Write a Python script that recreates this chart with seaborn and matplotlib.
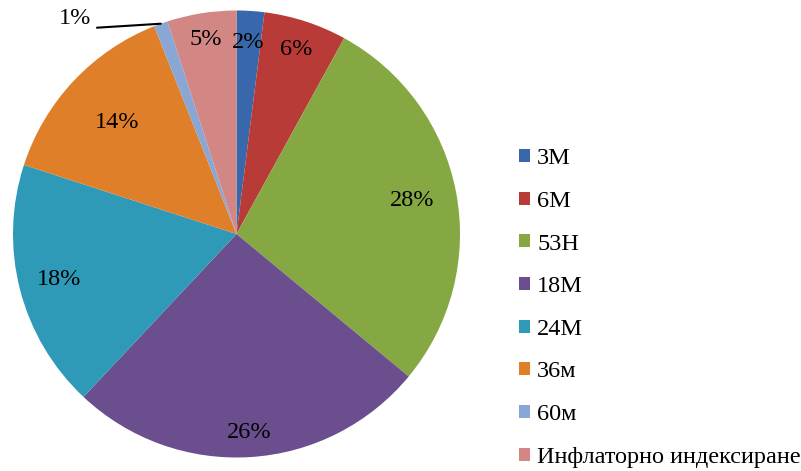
import seaborn as sns
import matplotlib.pyplot as plt
import numpy as np

# Данни
categories = ["3М", "6М", "53Н", "18М", "24М", "36м", "60м", "Инфлаторно индексиране"]
shares = [2, 6, 28, 26, 18, 14, 1, 5]
colors = ["#3868AB", "#B83B38", "#86A842", "#6A4E8E", "#2E9AB8", "#E07F2A", "#8AA6D4", "#D38784"]
label_dist = [0.86, 0.87, 0.80, 0.89, 0.82, 0.73, None, 0.88]

sns.set_theme(style="white")
plt.rcParams["font.family"] = ["Liberation Serif", "DejaVu Serif"]
plt.rcParams["text.color"] = "black"

W, H = 801, 471
fig = plt.figure(figsize=(W / 100, H / 100), dpi=100)
cx, cy, r = 236.5, 234, 223.5
ax = fig.add_axes([(cx - r) / W, (H - cy - r) / H, 2 * r / W, 2 * r / H])

wedges, _ = ax.pie(shares, colors=sns.color_palette(colors), startangle=90,
                   counterclock=False, radius=1,
                   wedgeprops=dict(linewidth=0))
ax.set_xlim(-1, 1)
ax.set_ylim(-1, 1)
ax.axis("off")

fs = 17.5
# Етикети с проценти
for w, val, d in zip(wedges, shares, label_dist):
    ang = np.deg2rad((w.theta1 + w.theta2) / 2)
    if d is None:
        # малкият сектор - етикет извън кръга с водеща линия
        ex, ey = np.cos(ang), np.sin(ang)
        tx, ty = (97 - cx) / r, (cy - 27.7) / r
        ax.plot([ex, tx], [ey, ty], color="black", lw=1.5, clip_on=False)
        ax.text(tx - 0.025, ty + 0.04, f"{val}%", ha="right", va="center",
                fontsize=fs, clip_on=False)
        continue
    ax.text(d * np.cos(ang), d * np.sin(ang), f"{val}%", ha="center", va="center",
            fontsize=fs)

fig.legend(wedges, categories, loc="center left", bbox_to_anchor=(519 / W, 1 - 308 / H),
           frameon=False, fontsize=fs, handlelength=0.45, handleheight=0.45,
           handletextpad=0.3, labelspacing=0.89, borderpad=0, borderaxespad=0)

fig.savefig("out.png", dpi=100)
